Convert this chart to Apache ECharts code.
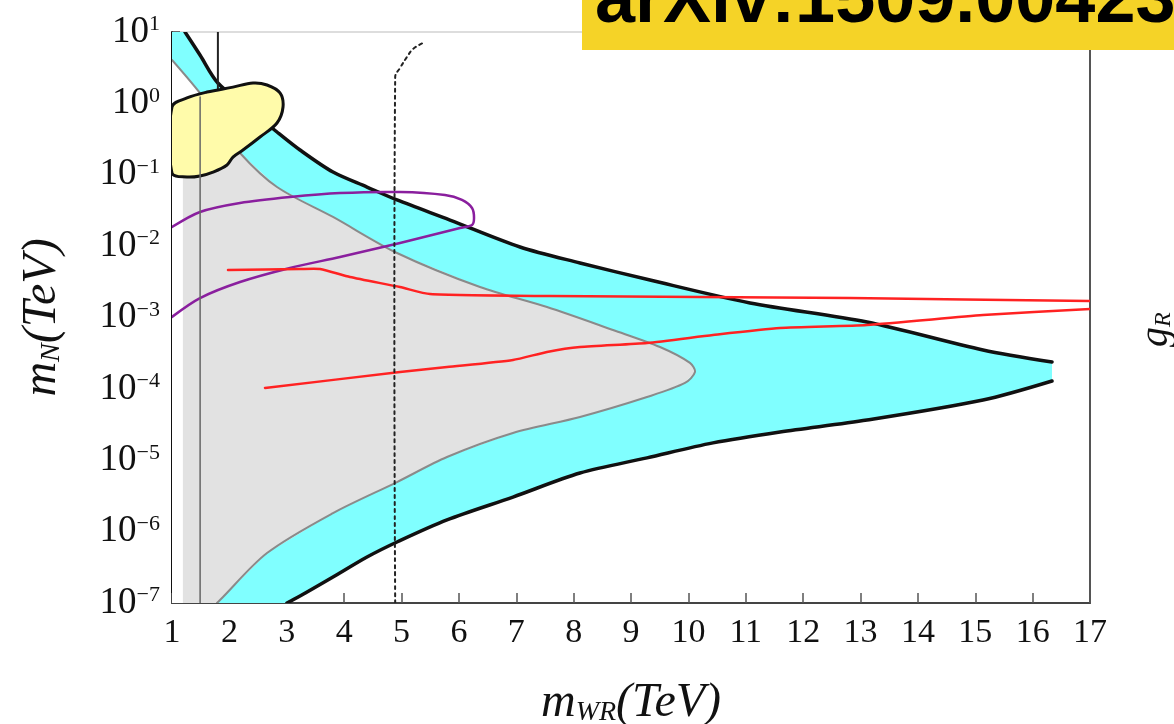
<!DOCTYPE html>
<html><head><meta charset="utf-8">
<script src="https://cdn.jsdelivr.net/npm/echarts@6/dist/echarts.min.js"></script>
<style>html,body{margin:0;padding:0;background:#fff}#c{width:1174px;height:724px}</style>
</head><body><div id="c"></div>
<script>
// ---- data (x: m_WR in TeV, y: m_N in TeV) ----
const xTicks = [1,2,3,4,5,6,7,8,9,10,11,12,13,14,15,16,17];
const yExponents = [-7,-6,-5,-4,-3,-2,-1,0,1];

const outerUpper = [[1.227,10],[1.488,4.76],[1.80,1.93],[2.325,0.861],[2.83,0.397],[3.231,0.222],[3.806,0.109],[4.399,0.0673],[4.922,0.0443],[5.845,0.0232],[7.065,0.00973],[8.111,0.00581],[9.331,0.00335],[11.074,0.00160],[13.113,8.65e-4],[15.135,3.51e-4],[16.338,2.38e-4]];
const outerLower = [[16.338,1.29e-4],[15.135,6.98e-5],[13.113,3.66e-5],[11.597,2.49e-5],[10.429,1.75e-5],[9.279,1.08e-5],[8.111,6.62e-6],[6.943,3.05e-6],[5.793,1.46e-6],[4.922,7.16e-7],[4.399,4.41e-7],[3.806,2.31e-7],[3.231,1.25e-7],[3.004,1e-7]];

const innerUpper = [[1.0,4.06],[1.54,1.23],[1.854,0.498],[2.185,0.2018],[2.83,0.0673],[3.806,0.0256],[4.922,0.00801],[6.368,0.00267],[7.536,0.00140],[8.686,6.68e-4],[9.505,3.86e-4],[10.028,2.31e-4],[10.115,1.72e-4]];
const innerLower = [[9.941,1.21e-4],[9.279,7.69e-5],[8.111,4.04e-5],[6.943,2.41e-5],[5.793,1.11e-5],[4.922,4.95e-6],[3.806,1.82e-6],[2.656,5.01e-7],[1.837,1.10e-7],[1.784,1e-7]];
const grayLeftEdge = [[1.19,1e-7],[1.19,0.12],[1.95,0.16]];

const blob = [[1.0,0.890],[1.261,1.19],[1.610,1.44],[2.063,1.69],[2.412,1.93],[2.656,1.81],[2.882,1.40],[2.935,0.890],[2.830,0.531],[2.534,0.338],[2.237,0.222],[2.063,0.177],[1.959,0.137],[1.715,0.109],[1.488,0.0962],[1.261,0.0931],[1.0,0.106]];

const purple = [[1.0,1.02e-3],[1.488,1.87e-3],[2.185,3.14e-3],[3.057,4.94e-3],[3.928,7.05e-3],[4.974,0.01107],[6.020,0.01795],[6.229,0.01977],[6.264,0.02478],[6.229,0.0342],[6.054,0.0443],[5.758,0.0520],[4.974,0.0573],[3.928,0.0555],[3.057,0.0488],[2.185,0.0402],[1.488,0.0301],[1.0,0.0185]];

const redUpper = [[1.976,4.62e-3],[3.231,4.78e-3],[3.580,4.78e-3],[4.102,3.69e-3],[4.974,2.67e-3],[5.497,2.13e-3],[7.588,2.00e-3],[12.817,1.87e-3],[17.0,1.70e-3]];
const redLower = [[2.621,1.03e-4],[4.974,1.72e-4],[5.793,2.02e-4],[6.943,2.54e-4],[7.536,3.29e-4],[8.111,3.86e-4],[9.279,4.40e-4],[10.429,5.69e-4],[11.597,7.13e-4],[13.113,7.85e-4],[15.135,1.08e-3],[17.0,1.32e-3]];

const dottedLine = [[4.89,1e-7],[4.89,2.34],[4.974,3.13],[5.096,4.47],[5.200,5.78],[5.375,7.02]];
const grayVertical = [[1.49,1e-7],[1.49,1.23]];
const blackVertical = [[1.80,10],[1.80,1.6]];

// ---- chart ----
const serif = '"Liberation Serif","Times New Roman",serif';
function polySeries(points, fill, stroke, lw, smooth) {
  return {
    type: 'custom', silent: true, animation: false, clip: true,
    data: [points[0]],
    renderItem: function (params, api) {
      return {
        type: 'polygon',
        shape: { points: points.map(p => api.coord(p)), smooth: smooth || 0 },
        style: { fill: fill, stroke: stroke || null, lineWidth: lw || 0, lineJoin: 'round' }
      };
    }
  };
}
function curveSeries(points, color, width, smooth, dash) {
  return {
    type: 'custom', silent: true, animation: false, clip: true,
    data: [points[0]],
    renderItem: function (params, api) {
      return {
        type: 'polyline',
        shape: { points: points.map(p => api.coord(p)), smooth: smooth || 0 },
        style: { fill: null, stroke: color, lineWidth: width, lineDash: dash || null, lineCap: 'round', lineJoin: 'round' }
      };
    }
  };
}

const chart = echarts.init(document.getElementById('c'), null, { renderer: 'canvas' });
const supLabel = e => '{b|10}{s|' + (e < 0 ? '\u2212' + (-e) : String(e)) + '}';
const yLabelMap = {};
yExponents.forEach(e => { yLabelMap[e] = supLabel(e); });
const S = 0.3;

chart.setOption({
  animation: false,
  backgroundColor: '#ffffff',
  grid: { left: 172, right: 84, top: 32, bottom: 121, outerBoundsMode: 'none', containLabel: false,
          show: true, borderColor: '#bbbbbb', borderWidth: 1, backgroundColor: 'transparent' },
  xAxis: {
    type: 'value', min: 1, max: 17, interval: 1,
    axisLine: { show: true, onZero: false, lineStyle: { color: '#444', width: 2 } },
    axisTick: { show: true, inside: true, length: 10, lineStyle: { color: '#555', width: 1.5 } },
    splitLine: { show: false },
    axisLabel: { margin: 13, fontFamily: serif, fontSize: 34, color: '#111',
      formatter: v => xTicks.indexOf(v) >= 0 ? String(v) : '' },
    name: '{i|m}{sub|WR}{i|(TeV)}', nameLocation: 'middle', nameGap: 76,
    nameTextStyle: { rich: {
      i: { fontFamily: serif, fontStyle: 'italic', fontSize: 48, color: '#111' },
      sub: { fontFamily: serif, fontStyle: 'italic', fontSize: 28, color: '#111', verticalAlign: 'bottom' }
    } }
  },
  yAxis: [{
    type: 'log', logBase: 10, min: 1e-7, max: 10, splitNumber: 8,
    axisLine: { show: true, onZero: false, lineStyle: { color: '#111', width: 2 } },
    axisTick: { show: true, inside: true, length: 8, lineStyle: { color: '#444', width: 1.5 } },
    splitLine: { show: false },
    axisLabel: { margin: 12, formatter: v => yLabelMap[Math.round(Math.log10(v))] || '',
      rich: {
        b: { fontFamily: serif, fontSize: 37, color: '#111' },
        s: { fontFamily: serif, fontSize: 22, color: '#111', verticalAlign: 'top' }
      } },
    name: '{i|m}{sub|N}{i|(TeV)}', nameLocation: 'middle', nameGap: 106, nameRotate: 90,
    nameTextStyle: { rich: {
      i: { fontFamily: serif, fontStyle: 'italic', fontSize: 48, color: '#111' },
      sub: { fontFamily: serif, fontStyle: 'italic', fontSize: 28, color: '#111', verticalAlign: 'bottom' }
    } }
  }, {
    type: 'log', logBase: 10, min: 1e-7, max: 10, position: 'right',
    axisLine: { show: true, lineStyle: { color: '#555', width: 2 } },
    axisTick: { show: false }, axisLabel: { show: false }, splitLine: { show: false }
  }],
  series: [
    polySeries([[1, 10]].concat(outerUpper, outerLower, [[1, 1e-7]]), '#80ffff'),
    polySeries(innerUpper.concat(innerLower, [[1, 1e-7]]), '#ffffff'),
    polySeries(grayLeftEdge.concat(innerUpper.slice(3), innerLower), '#e2e2e2'),
    curveSeries(innerUpper.concat(innerLower), '#8a8a8a', 2, S),
    curveSeries(outerUpper, '#111111', 3.5, S),
    curveSeries(outerLower, '#111111', 3.5, S),
    curveSeries(purple, '#8a1f9e', 2.5, S),
    curveSeries(redUpper, '#ff2222', 2.5, 0.2),
    curveSeries(redLower, '#ff2222', 2.5, 0.2),
    curveSeries(blackVertical, '#222222', 2),
    polySeries(blob, '#fffbaa', '#111111', 3, 0.35),
    curveSeries(grayVertical, '#666666', 1.5),
    curveSeries(dottedLine, '#222222', 2, 0.4, [3, 4])
  ],
  graphic: [
    { type: 'rect', left: 582, top: 0, shape: { width: 600, height: 50 }, style: { fill: '#f5d327' }, z: 100 },
    { type: 'text', x: 595, y: 2, z: 101,
      style: { text: 'arXiv:1509.00423', font: 'bold 72px "Liberation Sans", Arial, sans-serif', fill: '#000', verticalAlign: 'middle', align: 'left' } },
    { type: 'text', x: 1176, y: 347, rotation: Math.PI / 2, z: 101,
      style: { text: '{g|g}{r|R}', rich: { g: { font: 'italic 40px ' + serif, fill: '#111' }, r: { font: 'italic 24px ' + serif, fill: '#111', verticalAlign: 'bottom' } }, verticalAlign: 'bottom', align: 'left' } }
  ]
});
</script>
</body></html>
